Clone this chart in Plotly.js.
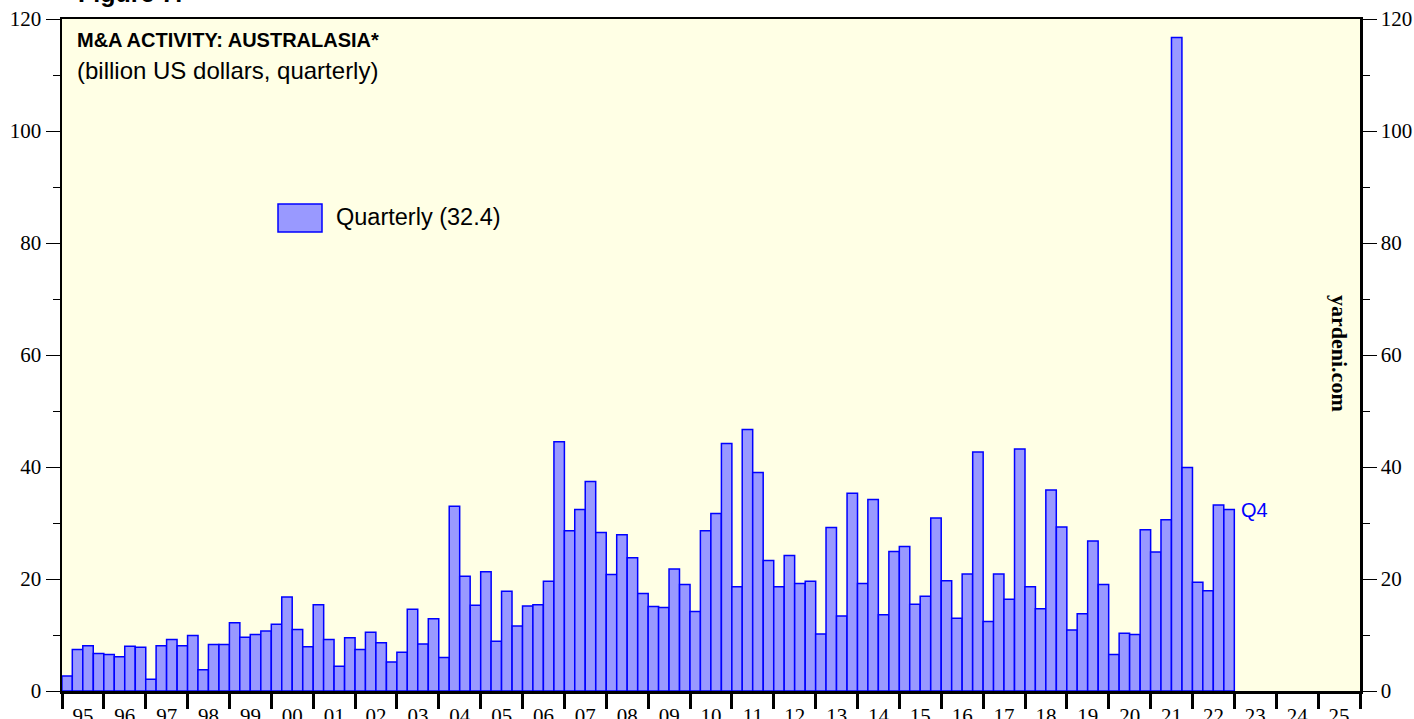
<!DOCTYPE html>
<html>
<head>
<meta charset="utf-8">
<script src="https://cdn.plot.ly/plotly-3.0.1.min.js"></script>
<style>html,body{margin:0;padding:0;background:#fff;}#chart{width:1414px;height:719px;}</style>
</head>
<body>
<div id="chart"></div>
<script>
// Years covered and quarterly values (billion US dollars)
const years = [1995,1996,1997,1998,1999,2000,2001,2002,2003,2004,2005,2006,2007,2008,2009,2010,2011,2012,2013,2014,2015,2016,2017,2018,2019,2020,2021,2022];
const quarterly = [
  2.7, 7.4, 8.1, 6.7,
  6.5, 6.1, 8.0, 7.8,
  2.1, 8.1, 9.2, 8.1,
  9.9, 3.8, 8.3, 8.3,
  12.2, 9.6, 10.1, 10.7,
  11.9, 16.8, 11.0, 7.9,
  15.4, 9.2, 4.4, 9.5,
  7.4, 10.5, 8.6, 5.2,
  6.9, 14.6, 8.4, 12.9,
  6.0, 33.0, 20.5, 15.3,
  21.3, 8.9, 17.8, 11.6,
  15.2, 15.4, 19.6, 44.5,
  28.6, 32.4, 37.4, 28.3,
  20.8, 27.9, 23.8, 17.4,
  15.1, 14.9, 21.8, 19.0,
  14.2, 28.6, 31.7, 44.2,
  18.6, 46.7, 39.0, 23.3,
  18.6, 24.2, 19.2, 19.6,
  10.2, 29.2, 13.4, 35.3,
  19.2, 34.2, 13.6, 24.9,
  25.8, 15.5, 16.9, 30.9,
  19.7, 13.0, 20.9, 42.7,
  12.4, 20.9, 16.4, 43.2,
  18.6, 14.7, 35.9, 29.3,
  10.9, 13.8, 26.8, 19.0,
  6.5, 10.3, 10.1, 28.8,
  24.8, 30.6, 116.7, 39.9,
  19.4, 17.9, 33.2, 32.4
];
const quarterStartMonths = ['01','04','07','10'];
const yTickVals = [0,20,40,60,80,100,120];

const xDates = [];
years.forEach(y => quarterStartMonths.forEach(m => xDates.push(y + '-' + m + '-01')));

const lastVal = quarterly[quarterly.length - 1];
const lastX = xDates[xDates.length - 1];

const QUARTER_MS = 91.3 * 24 * 3600 * 1000;
const xRange = ['1995-01-01', '2026-01-01'];

const traces = [
  {
    type: 'bar',
    x: xDates,
    y: quarterly,
    xperiod: 'M3',
    xperiodalignment: 'middle',
    width: QUARTER_MS,
    marker: {color: 'rgb(153,153,255)', line: {color: 'rgb(0,0,255)', width: 1.5}},
    showlegend: false,
    hoverinfo: 'x+y'
  },
  {
    type: 'scatter',
    mode: 'markers',
    x: [xDates[0]],
    y: [0],
    xaxis: 'x2',
    yaxis: 'y2',
    marker: {opacity: 0},
    showlegend: false,
    hoverinfo: 'skip'
  }
];

const tickFont = {family: 'Liberation Serif, Times New Roman, serif', size: 21, color: '#000'};
const sans = 'Liberation Sans, Arial, sans-serif';

const layout = {
  width: 1414,
  height: 719,
  margin: {l: 62, r: 54, t: 19, b: 28, pad: 0},
  paper_bgcolor: '#ffffff',
  plot_bgcolor: 'rgb(255,255,229)',
  bargap: 0,
  showlegend: false,
  xaxis: {
    type: 'date',
    range: xRange,
    tick0: '1995-01-01',
    dtick: 'M12',
    tickformat: '%y',
    ticklabelmode: 'period',
    ticks: 'outside',
    ticklen: 4,
    tickwidth: 3,
    tickcolor: '#000',
    tickfont: tickFont,
    showline: true,
    linecolor: '#000',
    linewidth: 2.5,
    mirror: true,
    showgrid: false,
    zeroline: false
  },
  xaxis2: {
    type: 'date',
    overlaying: 'x',
    side: 'bottom',
    anchor: 'y',
    range: xRange,
    tick0: '1995-01-01',
    dtick: 'M12',
    ticks: 'outside',
    ticklen: 17,
    tickwidth: 3,
    tickcolor: '#000',
    showticklabels: false,
    showline: false,
    showgrid: false,
    zeroline: false
  },
  yaxis: {
    range: [0, 120],
    tickvals: yTickVals,
    ticks: 'outside',
    ticklen: 14,
    tickwidth: 1,
    tickcolor: '#000',
    tickfont: tickFont,
    minor: {dtick: 10, tick0: 0, ticks: 'outside', ticklen: 7, tickwidth: 1, tickcolor: '#000'},
    showline: true,
    linecolor: '#000',
    linewidth: 2.5,
    showgrid: false,
    zeroline: false,
    fixedrange: true
  },
  yaxis2: {
    overlaying: 'y',
    side: 'right',
    range: [0, 120],
    tickvals: yTickVals,
    ticks: 'outside',
    ticklen: 14,
    tickwidth: 1,
    tickcolor: '#000',
    tickfont: tickFont,
    minor: {dtick: 10, tick0: 0, ticks: 'outside', ticklen: 7, tickwidth: 1, tickcolor: '#000'},
    showline: true,
    linecolor: '#000',
    linewidth: 2.5,
    showgrid: false,
    zeroline: false
  },
  shapes: [
    {type: 'rect', xref: 'paper', yref: 'paper', x0: (278-62)/1298, x1: (322-62)/1298,
     y0: (691-232)/672, y1: (691-204)/672,
     fillcolor: 'rgb(153,153,255)', line: {color: 'rgb(0,0,255)', width: 1.5}}
  ],
  annotations: [
    {xref: 'paper', yref: 'paper', x: (76-62)/1298, y: (691+7)/672, xanchor: 'left', yanchor: 'middle',
     text: '<b>Figure 7.</b>', showarrow: false, font: {family: sans, size: 25, color: '#000'}},
    {xref: 'paper', yref: 'paper', x: (75-62)/1298, y: (691-40)/672, xanchor: 'left', yanchor: 'middle',
     text: '<b>M&A ACTIVITY: AUSTRALASIA*</b>', showarrow: false, font: {family: sans, size: 20, color: '#000'}},
    {xref: 'paper', yref: 'paper', x: (75-62)/1298, y: (691-71)/672, xanchor: 'left', yanchor: 'middle',
     text: '(billion US dollars, quarterly)', showarrow: false, font: {family: sans, size: 24, color: '#000'}},
    {xref: 'paper', yref: 'paper', x: (334-62)/1298, y: (691-217)/672, xanchor: 'left', yanchor: 'middle',
     text: 'Quarterly (' + lastVal.toFixed(1) + ')', showarrow: false, font: {family: sans, size: 23.5, color: '#000'}},
    {xref: 'x', yref: 'y', x: lastX, y: lastVal, xanchor: 'left', yanchor: 'middle', xshift: 15, yshift: 0,
     text: 'Q4', showarrow: false, font: {family: sans, size: 20, color: 'rgb(0,0,255)'}},
    {xref: 'paper', yref: 'paper', x: (1340-62)/1298, y: (691-353)/672, xanchor: 'center', yanchor: 'middle',
     text: '<b>yardeni.com</b>', textangle: 90, showarrow: false, font: {family: 'Liberation Serif, Times New Roman, serif', size: 22, color: '#000'}}
  ]
};

Plotly.newPlot('chart', traces, layout, {displayModeBar: false, staticPlot: true});
</script>
</body>
</html>
